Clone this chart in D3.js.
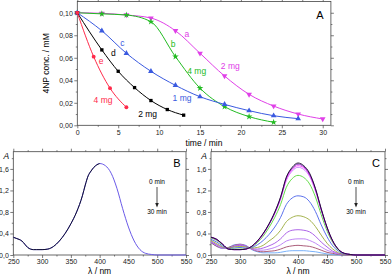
<!DOCTYPE html>
<html>
<head>
<meta charset="utf-8">
<script src="https://cdn.jsdelivr.net/npm/d3@7"></script>
<style>
  body { margin: 0; background: #fff; }
  svg { font-family: Arial, "Liberation Sans", sans-serif; }
  .tick text { font-size: 7px; fill: #222; }
</style>
</head>
<body>
<div id="chart"></div>
<script>
// Panel A: 4NP concentration vs time
const seriesA = [
  { name: 'a', color: '#e040e8', symbol: 'down', times: [0, 3, 6, 9, 12, 15, 18, 21, 24, 27, 30],
    conc: [0.100, 0.0995, 0.098, 0.0953, 0.084, 0.064, 0.0438, 0.0275, 0.0171, 0.0100, 0.0056] },
  { name: 'b', color: '#22bb22', symbol: 'star', times: [0, 3, 6, 9, 12, 15, 18, 21, 24],
    conc: [0.100, 0.099, 0.098, 0.092, 0.061, 0.033, 0.0166, 0.0077, 0.0027] },
  { name: 'c', color: '#3a5ae0', symbol: 'up', times: [0, 3, 6, 9, 12, 15, 18, 21, 24, 27],
    conc: [0.100, 0.084, 0.064, 0.048, 0.0355, 0.0254, 0.0186, 0.0130, 0.0085, 0.0059] },
  { name: 'd', color: '#000000', symbol: 'square', times: [0, 3, 5, 7, 9, 11, 13],
    conc: [0.100, 0.067, 0.048, 0.0335, 0.022, 0.014, 0.009] },
  { name: 'e', color: '#ff2a4a', symbol: 'circle', times: [0, 2, 4, 6],
    conc: [0.100, 0.061, 0.033, 0.016] }
];
const labelsA = [
  { text: 'a', color: '#e040e8', x: 13.4, y: 0.0784 },
  { text: '2 mg', color: '#e040e8', x: 18.7, y: 0.050 },
  { text: 'b', color: '#22bb22', x: 11.7, y: 0.0695 },
  { text: '4 mg', color: '#22bb22', x: 14.6, y: 0.0456 },
  { text: 'c', color: '#3a5ae0', x: 5.5, y: 0.0704 },
  { text: '1 mg', color: '#3a5ae0', x: 12.8, y: 0.0216 },
  { text: 'd', color: '#000000', x: 4.4, y: 0.0615 },
  { text: '2 mg', color: '#000000', x: 8.6, y: 0.0074 },
  { text: 'e', color: '#ff2a4a', x: 2.9, y: 0.0544 },
  { text: '4 mg', color: '#ff2a4a', x: 3.15, y: 0.0198 }
];

// Panel B: spectrum without catalyst (0 and 30 min coincide)
const waveB = [250, 255, 260, 265, 270, 275, 280, 285, 290, 300, 310, 320, 330, 340, 350, 360, 370, 375,
  380, 385, 390, 400, 410, 420, 430, 440, 450, 460, 470, 480, 490, 500, 550];
const absB = [0.33, 0.31, 0.29, 0.26, 0.20, 0.14, 0.11, 0.10, 0.10, 0.10, 0.11, 0.16, 0.26, 0.40, 0.58, 0.80, 1.10, 1.30,
  1.47, 1.56, 1.63, 1.70, 1.66, 1.52, 1.24, 0.86, 0.52, 0.26, 0.10, 0.03, 0.01, 0, 0];

// Panel C: spectra during reduction, 0 min (top) to 30 min (bottom)
const waveC = [250, 260, 270, 280, 290, 300, 310, 320, 330, 340, 350, 360, 370, 380, 390, 400, 410, 420,
  430, 440, 450, 460, 470, 480, 490, 500, 550];
const colorsC = ['#1a0a2a', '#6a10b0', '#ff3cff', '#c878ff', '#55d838', '#4a62ea', '#9aaa3a', '#a452e4',
  '#b878f4', '#a24a6a', '#6aa8f8'];
const absC = [
  [0.33, 0.29, 0.20, 0.11, 0.10, 0.10, 0.11, 0.16, 0.26, 0.40, 0.58, 0.80, 1.08, 1.45, 1.63, 1.71, 1.66, 1.52, 1.24, 0.86, 0.52, 0.26, 0.10, 0.03, 0.01, 0, 0],
  [0.33, 0.29, 0.20, 0.11, 0.10, 0.10, 0.11, 0.16, 0.26, 0.40, 0.57, 0.79, 1.07, 1.44, 1.61, 1.69, 1.64, 1.50, 1.23, 0.85, 0.51, 0.26, 0.10, 0.03, 0.01, 0, 0],
  [0.33, 0.29, 0.20, 0.11, 0.10, 0.10, 0.11, 0.16, 0.25, 0.39, 0.57, 0.78, 1.05, 1.41, 1.59, 1.66, 1.62, 1.48, 1.21, 0.84, 0.51, 0.25, 0.10, 0.03, 0.01, 0, 0],
  [0.33, 0.28, 0.20, 0.11, 0.10, 0.10, 0.11, 0.16, 0.25, 0.38, 0.56, 0.77, 1.04, 1.39, 1.56, 1.63, 1.59, 1.46, 1.19, 0.83, 0.50, 0.25, 0.10, 0.03, 0.01, 0, 0],
  [0.32, 0.27, 0.19, 0.11, 0.11, 0.11, 0.12, 0.15, 0.23, 0.35, 0.51, 0.70, 0.94, 1.26, 1.42, 1.48, 1.44, 1.32, 1.08, 0.75, 0.45, 0.23, 0.09, 0.03, 0.01, 0, 0],
  [0.29, 0.24, 0.17, 0.12, 0.13, 0.14, 0.13, 0.14, 0.19, 0.27, 0.38, 0.52, 0.70, 0.94, 1.06, 1.10, 1.08, 0.99, 0.81, 0.56, 0.34, 0.17, 0.07, 0.02, 0.01, 0, 0],
  [0.27, 0.21, 0.15, 0.13, 0.15, 0.16, 0.15, 0.13, 0.14, 0.18, 0.26, 0.34, 0.46, 0.62, 0.70, 0.73, 0.71, 0.65, 0.53, 0.37, 0.22, 0.11, 0.04, 0.01, 0, 0, 0],
  [0.25, 0.19, 0.14, 0.13, 0.16, 0.18, 0.16, 0.12, 0.11, 0.13, 0.17, 0.22, 0.30, 0.41, 0.46, 0.47, 0.46, 0.43, 0.35, 0.24, 0.15, 0.07, 0.03, 0.01, 0, 0, 0],
  [0.24, 0.18, 0.13, 0.13, 0.17, 0.19, 0.17, 0.11, 0.09, 0.09, 0.11, 0.14, 0.19, 0.26, 0.29, 0.30, 0.30, 0.27, 0.22, 0.15, 0.09, 0.05, 0.02, 0.01, 0, 0, 0],
  [0.23, 0.16, 0.13, 0.14, 0.18, 0.20, 0.17, 0.11, 0.07, 0.06, 0.07, 0.08, 0.11, 0.15, 0.17, 0.18, 0.17, 0.16, 0.13, 0.09, 0.05, 0.03, 0.01, 0, 0, 0, 0],
  [0.23, 0.16, 0.12, 0.14, 0.19, 0.20, 0.18, 0.10, 0.06, 0.04, 0.04, 0.04, 0.05, 0.07, 0.08, 0.08, 0.08, 0.07, 0.06, 0.04, 0.02, 0.01, 0, 0, 0, 0, 0]
];

const W = 392, H = 279;
const svg = d3.select('#chart').append('svg').attr('width', W).attr('height', H);

const comma = (f) => (v) => d3.format(f)(v).replace('.', ',');

function frame(g, x, y) {
  const [x0, x1] = x.range();
  const [y0, y1] = y.range();
  g.append('rect')
    .attr('x', x0).attr('y', y1)
    .attr('width', x1 - x0).attr('height', y0 - y1)
    .attr('fill', 'none').attr('stroke', '#444').attr('stroke-width', 0.8);
}

function axes(g, x, y, xTicks, xMinor, yTicks, yMinor, xFmt, yFmt) {
  const [x0, x1] = x.range();
  const [y0, y1] = y.range();
  const style = (sel) => {
    sel.select('.domain').remove();
    sel.selectAll('.tick line').attr('stroke', '#444').attr('stroke-width', 0.7);
  };
  g.append('g').attr('transform', `translate(0,${y0})`)
    .call(d3.axisBottom(x).tickValues(xTicks).tickFormat(xFmt).tickSize(3).tickPadding(1.5)).call(style);
  g.append('g').attr('transform', `translate(0,${y0})`)
    .call(d3.axisBottom(x).tickValues(xMinor).tickFormat('').tickSize(1.5)).call(style);
  g.append('g').attr('transform', `translate(0,${y1})`)
    .call(d3.axisTop(x).tickValues(xTicks).tickFormat('').tickSize(3)).call(style);
  g.append('g').attr('transform', `translate(0,${y1})`)
    .call(d3.axisTop(x).tickValues(xMinor).tickFormat('').tickSize(1.5)).call(style);
  g.append('g').attr('transform', `translate(${x0},0)`)
    .call(d3.axisLeft(y).tickValues(yTicks).tickFormat(yFmt).tickSize(3).tickPadding(1.5)).call(style);
  g.append('g').attr('transform', `translate(${x0},0)`)
    .call(d3.axisLeft(y).tickValues(yMinor).tickFormat('').tickSize(1.5)).call(style);
  g.append('g').attr('transform', `translate(${x1},0)`)
    .call(d3.axisRight(y).tickValues(yTicks).tickFormat('').tickSize(3)).call(style);
  g.append('g').attr('transform', `translate(${x1},0)`)
    .call(d3.axisRight(y).tickValues(yMinor).tickFormat('').tickSize(1.5)).call(style);
  frame(g, x, y);
}

// ---- Panel A ----
const gA = svg.append('g');
const xA = d3.scaleLinear().domain([0, 31]).range([77.3, 330.9]);
const yA = d3.scaleLinear().domain([0, 0.11]).range([125.3, 1.5]);
axes(gA, xA, yA, [0, 5, 10, 15, 20, 25, 30], [2.5, 7.5, 12.5, 17.5, 22.5, 27.5],
  [0, 0.02, 0.04, 0.06, 0.08, 0.1], [0.01, 0.03, 0.05, 0.07, 0.09], d3.format('d'), comma('.2f'));

const lineA = d3.line().x((d) => xA(d[0])).y((d) => yA(d[1])).curve(d3.curveMonotoneX);
const symbols = {
  down: d3.symbol().type(d3.symbolTriangle).size(14),
  up: d3.symbol().type(d3.symbolTriangle).size(14),
  star: d3.symbol().type(d3.symbolStar).size(14),
  square: d3.symbol().type(d3.symbolSquare).size(11),
  circle: d3.symbol().type(d3.symbolCircle).size(12)
};
seriesA.forEach((s) => {
  const pts = s.times.map((t, i) => [t, s.conc[i]]);
  gA.append('path').datum(pts)
    .attr('fill', 'none').attr('stroke', s.color).attr('stroke-width', 1).attr('d', lineA);
  gA.selectAll(null).data(pts).enter().append('path')
    .attr('d', symbols[s.symbol]())
    .attr('transform', (d) => `translate(${xA(d[0])},${yA(d[1])})` + (s.symbol === 'down' ? ' rotate(180)' : ''))
    .attr('fill', s.color);
});
gA.selectAll(null).data(labelsA).enter().append('text')
  .attr('x', (d) => xA(d.x)).attr('y', (d) => yA(d.y))
  .attr('text-anchor', 'middle').attr('font-size', 8.5)
  .attr('fill', (d) => d.color).text((d) => d.text);

gA.append('text').attr('x', 320).attr('y', 19).attr('text-anchor', 'middle')
  .attr('font-size', 11).text('A');
gA.append('text').attr('transform', `translate(49,${(125.3 + 1.5) / 2}) rotate(-90)`)
  .attr('text-anchor', 'middle').attr('font-size', 8.5).text('4NP conc. / mM');
gA.append('text').attr('x', 204).attr('y', 146).attr('text-anchor', 'middle')
  .attr('font-size', 8.5).text('time / min');

// ---- Panels B and C ----
function spectrumPanel(left, right, letter) {
  const g = svg.append('g');
  const x = d3.scaleLinear().domain([250, 550]).range([left, right]);
  const y = d3.scaleLinear().domain([0, 1.92]).range([255, 151.7]);
  axes(g, x, y, [250, 300, 350, 400, 450, 500, 550], [275, 325, 375, 425, 475, 525],
    [0, 0.4, 0.8, 1.2, 1.6], [0.2, 0.6, 1.0, 1.4, 1.8], d3.format('d'), comma('.1f'));
  g.append('text').attr('x', (left + right) / 2).attr('y', 274).attr('text-anchor', 'middle')
    .attr('font-size', 8.5).text('λ / nm');
  g.append('text').attr('x', left - 7).attr('y', 159).attr('text-anchor', 'middle')
    .attr('font-size', 8.5).attr('font-style', 'italic').text('A');
  g.append('text').attr('x', right - 9).attr('y', 167).attr('text-anchor', 'middle')
    .attr('font-size', 11).text(letter);
  const ax = right - 29;
  g.append('text').attr('x', ax).attr('y', 184).attr('text-anchor', 'middle')
    .attr('font-size', 6.5).text('0 min');
  g.append('text').attr('x', ax).attr('y', 214).attr('text-anchor', 'middle')
    .attr('font-size', 6.5).text('30 min');
  g.append('line').attr('x1', ax).attr('x2', ax).attr('y1', 187).attr('y2', 204)
    .attr('stroke', '#222').attr('stroke-width', 0.8);
  g.append('path').attr('d', `M${ax - 1.8},${203} L${ax + 1.8},${203} L${ax},${207.5} Z`).attr('fill', '#222');
  return { g, x, y };
}

const B = spectrumPanel(13.3, 186, 'B');
const lineB = d3.line().x((d) => B.x(d[0])).y((d) => B.y(d[1])).curve(d3.curveMonotoneX);
const ptsB = waveB.map((w, i) => [w, absB[i]]);
B.g.append('path').datum(ptsB).attr('fill', 'none').attr('stroke', '#6a5ae8')
  .attr('stroke-width', 1).attr('d', lineB);
B.g.append('path').datum(ptsB.filter((d) => d[0] <= 400)).attr('fill', 'none').attr('stroke', '#101030')
  .attr('stroke-width', 1).attr('d', lineB);

const C = spectrumPanel(211, 385, 'C');
const lineC = d3.line().x((d) => C.x(d[0])).y((d) => C.y(d[1])).curve(d3.curveMonotoneX);
absC.slice().reverse().forEach((vals, ri) => {
  const i = absC.length - 1 - ri;
  C.g.append('path').datum(waveC.map((w, j) => [w, vals[j]]))
    .attr('fill', 'none').attr('stroke', colorsC[i]).attr('stroke-width', 0.9).attr('d', lineC);
});
</script>
</body>
</html>
